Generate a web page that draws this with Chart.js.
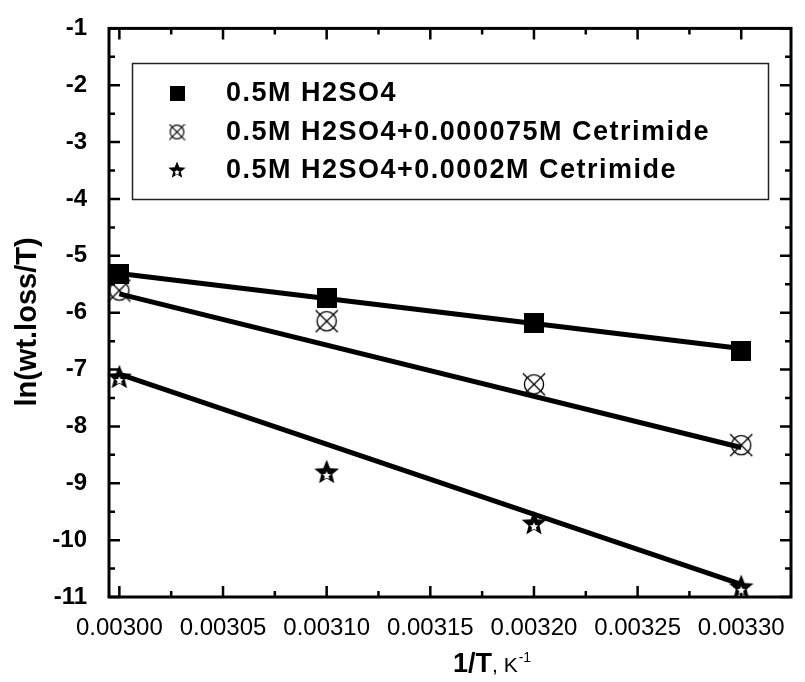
<!DOCTYPE html>
<html lang="en">
<head>
<meta charset="UTF-8">
<title>ln(wt.loss/T) vs 1/T</title>
<script src="https://cdn.jsdelivr.net/npm/chart.js@4.4.1/dist/chart.umd.min.js"></script>
<style>
  html, body { margin: 0; padding: 0; background: #fff; }
</style>
</head>
<body>
<canvas id="arrhenius" width="805" height="682"></canvas>
<script>
// measured points, 1/T in K^-1
const invT = [0.00300, 0.00310, 0.00320, 0.00330];
const blank = [-5.32, -5.74, -6.18, -6.67];
const cet75 = [-5.61, -6.15, -7.26, -8.33];
const cet200 = [-7.13, -8.80, -9.70, -10.82];

// straight line fits, end points
const fitX = [0.00300, 0.00330];
const fitBlank = [-5.31, -6.63];
const fitCet75 = [-5.67, -8.37];
const fitCet200 = [-7.08, -10.78];

const seriesNames = ['0.5M H2SO4', '0.5M H2SO4+0.000075M Cetrimide', '0.5M H2SO4+0.0002M Cetrimide'];
const xTicks = [0.00300, 0.00305, 0.00310, 0.00315, 0.00320, 0.00325, 0.00330];
const xMinor = [0.003025, 0.003075, 0.003125, 0.003175, 0.003225, 0.003275];
const yTicks = [-11, -10, -9, -8, -7, -6, -5, -4, -3, -2, -1];
const yMinor = [-10.5, -9.5, -8.5, -7.5, -6.5, -5.5, -4.5, -3.5, -2.5, -1.5];

const FONT = "'Liberation Sans', Arial, sans-serif";

function pts(xs, ys) {
  return xs.map((x, i) => ({ x: x, y: ys[i] }));
}

// marker images
function symbol(kind, size) {
  const c = document.createElement('canvas');
  c.width = size; c.height = size;
  const g = c.getContext('2d');
  const m = size / 2;
  g.fillStyle = '#000';
  g.strokeStyle = '#000';
  if (kind === 'square') {
    g.fillRect(0, 0, size, size);
  } else if (kind === 'circx') {
    g.lineWidth = Math.max(1.2, size / 18);
    g.beginPath();
    g.arc(m, m, size * 0.4, 0, Math.PI * 2);
    g.stroke();
    const d = size * 0.46;
    g.beginPath();
    g.moveTo(m - d, m - d); g.lineTo(m + d, m + d);
    g.moveTo(m + d, m - d); g.lineTo(m - d, m + d);
    g.stroke();
  } else if (kind === 'star') {
    const star = (cx, cy, R, r) => {
      g.beginPath();
      for (let i = 0; i < 10; i++) {
        const a = -Math.PI / 2 + i * Math.PI / 5;
        const rr = i % 2 === 0 ? R : r;
        g.lineTo(cx + rr * Math.cos(a), cy + rr * Math.sin(a));
      }
      g.closePath();
    };
    star(m, m + size * 0.03, size * 0.5, size * 0.22);
    g.fill();
    g.fillStyle = '#fff';
    star(m, m + size * 0.14, size * 0.17, size * 0.08);
    g.fill();
  }
  return c;
}

const markers = [symbol('square', 20), symbol('circx', 24), symbol('star', 26)];
const legendMarkers = [symbol('square', 15), symbol('circx', 17), symbol('star', 18)];

const framePlugin = {
  id: 'frame',
  beforeDatasetsDraw(chart) {
    const { ctx, chartArea: a, scales } = chart;
    ctx.save();
    ctx.strokeStyle = '#000';
    ctx.lineWidth = 3;
    ctx.strokeRect(a.left, a.top, a.right - a.left, a.bottom - a.top);
    ctx.lineWidth = 2.5;
    ctx.beginPath();
    const xt = (v, len) => {
      const p = scales.x.getPixelForValue(v);
      ctx.moveTo(p, a.bottom); ctx.lineTo(p, a.bottom - len);
      ctx.moveTo(p, a.top); ctx.lineTo(p, a.top + len);
    };
    const yt = (v, len) => {
      const p = scales.y.getPixelForValue(v);
      ctx.moveTo(a.left, p); ctx.lineTo(a.left + len, p);
      ctx.moveTo(a.right, p); ctx.lineTo(a.right - len, p);
    };
    xTicks.forEach(v => xt(v, 11));
    xMinor.forEach(v => xt(v, 6));
    yTicks.forEach(v => yt(v, 11));
    yMinor.forEach(v => yt(v, 6));
    ctx.stroke();
    ctx.restore();
  },
  afterDraw(chart) {
    const { ctx } = chart;
    ctx.save();
    ctx.fillStyle = '#000';

    // legend box
    ctx.strokeStyle = '#222';
    ctx.lineWidth = 1.5;
    ctx.strokeRect(132.5, 63.5, 636, 136);
    const rows = [93, 132, 170];
    ctx.font = 'bold 27px ' + FONT;
    ctx.letterSpacing = '1.5px';
    ctx.textBaseline = 'middle';
    ctx.textAlign = 'left';
    seriesNames.forEach((name, i) => {
      const img = legendMarkers[i];
      ctx.drawImage(img, 177 - img.width / 2, rows[i] - img.height / 2);
      ctx.fillText(name, 226, rows[i] + 1);
    });
    ctx.letterSpacing = '0px';

    // y title
    ctx.save();
    ctx.translate(28, 322);
    ctx.rotate(-Math.PI / 2);
    ctx.textAlign = 'center';
    ctx.font = 'bold 29px ' + FONT;
    ctx.fillText('ln(wt.loss/T)', 0, 0);
    ctx.restore();

    // x title: 1/T, K^-1
    ctx.textBaseline = 'alphabetic';
    let x = 453;
    const base = 672;
    ctx.font = 'bold 27px ' + FONT;
    ctx.fillText('1/T', x, base);
    x += ctx.measureText('1/T').width;
    ctx.font = '21px ' + FONT;
    ctx.fillText(', K', x, base);
    x += ctx.measureText(', K').width + 1;
    ctx.font = '14px ' + FONT;
    ctx.fillText('-1', x, base - 10);
    ctx.restore();
  }
};

new Chart('arrhenius', {
  type: 'scatter',
  data: {
    datasets: [
      { data: pts(invT, blank), pointStyle: markers[0], pointRadius: 10, order: 0, clip: false },
      { data: pts(invT, cet75), pointStyle: markers[1], pointRadius: 12, order: 0, clip: false },
      { data: pts(invT, cet200), pointStyle: markers[2], pointRadius: 13, order: 0, clip: false },
      { data: pts(fitX, fitBlank), showLine: true, pointRadius: 0, borderColor: '#000', borderWidth: 5, order: 1 },
      { data: pts(fitX, fitCet75), showLine: true, pointRadius: 0, borderColor: '#000', borderWidth: 5, order: 1 },
      { data: pts(fitX, fitCet200), showLine: true, pointRadius: 0, borderColor: '#000', borderWidth: 5, order: 1 }
    ]
  },
  options: {
    responsive: false,
    animation: false,
    layout: { padding: { top: 26, right: 3, left: 0, bottom: 0 } },
    plugins: { legend: { display: false }, tooltip: { enabled: false } },
    scales: {
      x: {
        type: 'linear',
        min: 0.002995,
        max: 0.003324,
        afterBuildTicks: s => { s.ticks = xTicks.map(v => ({ value: v })); },
        afterFit: s => { s.height = 85; },
        grid: { display: false },
        border: { display: false },
        ticks: {
          autoSkip: false,
          maxRotation: 0,
          padding: 9,
          color: '#000',
          font: { family: FONT, size: 24 },
          callback: v => v.toFixed(5)
        }
      },
      y: {
        min: -11,
        max: -1,
        afterBuildTicks: s => { s.ticks = yTicks.map(v => ({ value: v })); },
        afterFit: s => { s.width = 109; },
        grid: { display: false },
        border: { display: false },
        ticks: {
          padding: 14,
          color: '#000',
          font: { family: FONT, size: 24, weight: 'bold' },
          callback: v => String(v)
        }
      }
    }
  },
  plugins: [framePlugin]
});
</script>
</body>
</html>
